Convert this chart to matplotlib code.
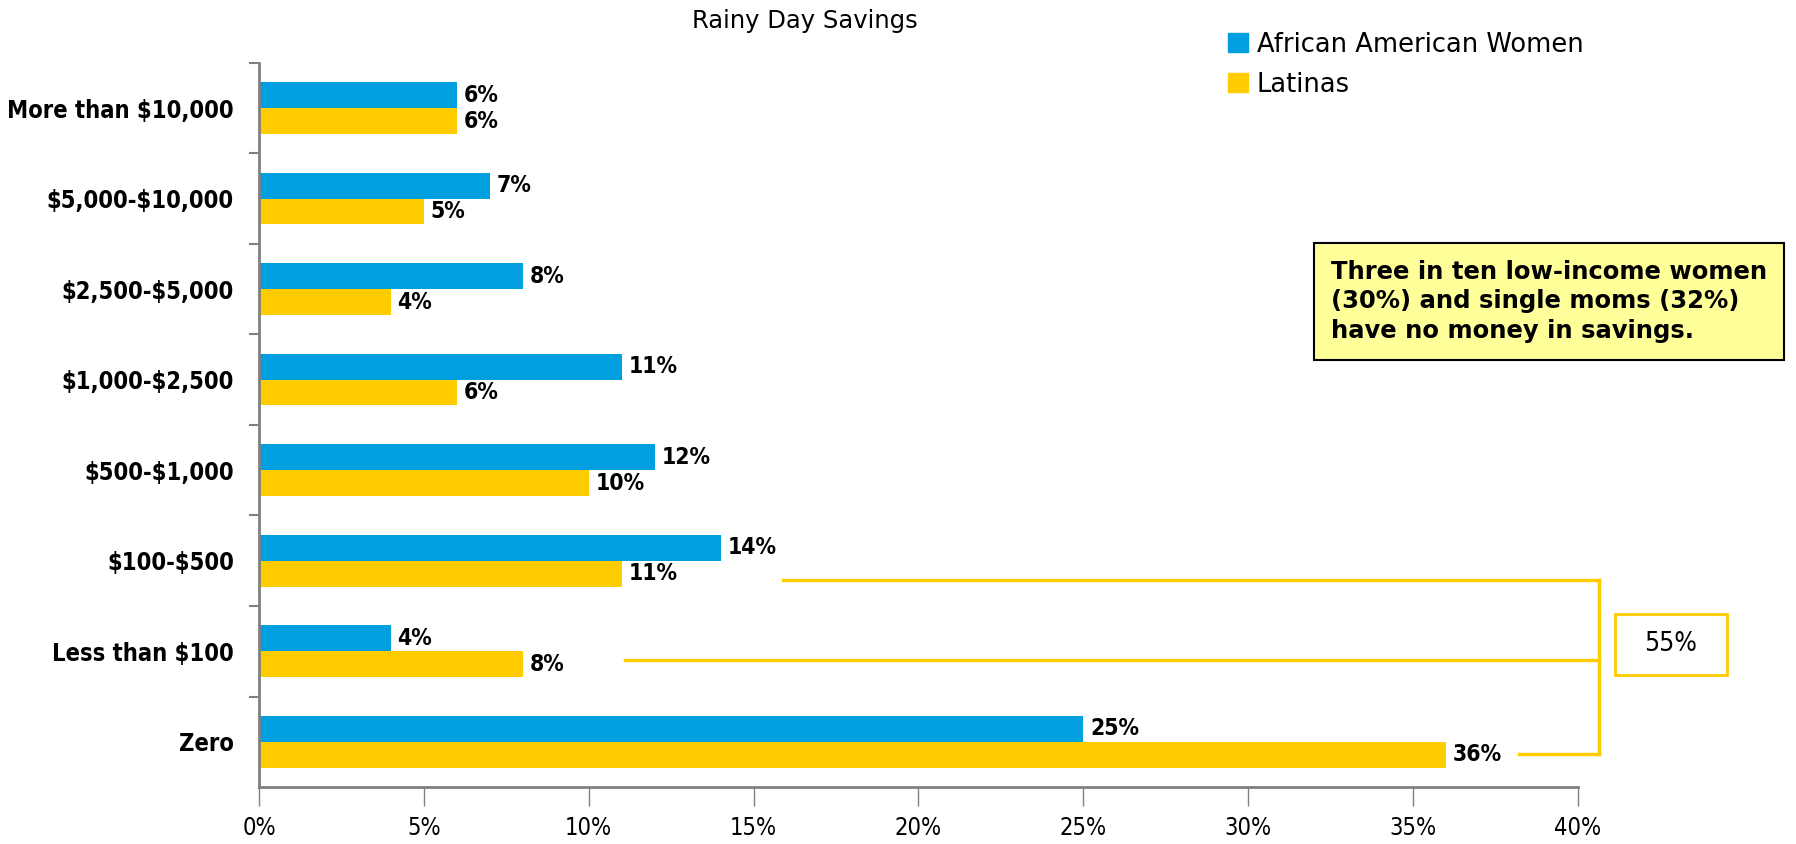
import matplotlib
matplotlib.use("Agg")
import matplotlib.pyplot as plt
from matplotlib.patches import Patch, Rectangle

# data
categories = ["More than \\$10,000", "\\$5,000-\\$10,000", "\\$2,500-\\$5,000", "\\$1,000-\\$2,500",
              "\\$500-\\$1,000", "\\$100-\\$500", "Less than \\$100", "Zero"]
african_american_women = [6, 7, 8, 11, 12, 14, 4, 25]
latinas = [6, 5, 4, 6, 10, 11, 8, 36]
xticks = [0, 5, 10, 15, 20, 25, 30, 35, 40]
callout_text = "Three in ten low-income women\n(30%) and single moms (32%)\nhave no money in savings."
bracket_total = "55%"

BLUE = "#009FDF"
YELLOW = "#FFCC00"
AXIS_GREY = "#808080"
NARROW = dict(family="DejaVu Sans", stretch="condensed")

fig = plt.figure(figsize=(17.96, 8.44), dpi=100)
ax = fig.add_axes([0.1442, 0.0675, 0.7344, 0.858])

bar_h = 0.285
ys = list(range(len(categories)))
ax.barh([y - bar_h / 2 for y in ys], african_american_women, height=bar_h, color=BLUE)
ax.barh([y + bar_h / 2 for y in ys], latinas, height=bar_h, color=YELLOW)

for y, a, l in zip(ys, african_american_women, latinas):
    ax.text(a + 0.2, y - bar_h / 2, f"{a}%", fontsize=16.5, fontweight="bold", va="center", **NARROW)
    ax.text(l + 0.2, y + bar_h / 2, f"{l}%", fontsize=16.5, fontweight="bold", va="center", **NARROW)

ax.set_xlim(0, 40)
ax.set_ylim(len(categories) - 0.5, -0.5)
ax.set_xticks(xticks)
ax.set_xticklabels([f"{t}%" for t in xticks], fontsize=17, **NARROW)
ax.set_yticks(ys)
ax.set_yticklabels(categories, fontsize=17, fontweight="bold", **NARROW)
# ticks sit on the category boundaries, labels in the middle
ax.set_yticks([y + 0.5 for y in ys[:-1]] + [-0.5], minor=True)
ax.tick_params(axis="y", which="major", length=0, pad=18)
ax.tick_params(axis="y", which="minor", length=7, width=1.5, color=AXIS_GREY, direction="out")
ax.tick_params(axis="x", length=14, width=1, color=AXIS_GREY, pad=7, direction="out")

for side in ("top", "right"):
    ax.spines[side].set_visible(False)
for side in ("left", "bottom"):
    ax.spines[side].set_color(AXIS_GREY)
    ax.spines[side].set_linewidth(2)

fig.text(0.4484, 0.9756, "Rainy Day Savings", family="DejaVu Sans", fontsize=17.5,
         ha="center", va="center")

legend_handles = [Patch(color=BLUE, label="African American Women"),
                  Patch(color=YELLOW, label="Latinas")]
fig.legend(handles=legend_handles, loc="upper left", bbox_to_anchor=(0.671, 0.99),
           frameon=False, prop=dict(family="DejaVu Sans", size=18.5),
           handlelength=0.75, handleheight=0.75, handletextpad=0.35, labelspacing=0.55)

# callout box
fig.text(0.741, 0.643, callout_text, family="DejaVu Sans", fontsize=17.5, fontweight="bold",
         va="center", ha="left", linespacing=1.3,
         bbox=dict(boxstyle="square,pad=0.7", facecolor="#FFFF99", edgecolor="black", linewidth=1.5))

# bracket grouping the three lowest savings levels
bx = 40.65
bracket = [(15.9, 5.21), (11.1, 6.1), (38.2, 7.14)]
for x0, yb in bracket:
    ax.plot([x0, bx], [yb, yb], color=YELLOW, lw=2.5, clip_on=False)
ax.plot([bx, bx], [bracket[0][1], bracket[-1][1]], color=YELLOW, lw=2.5, clip_on=False)
ax.add_patch(Rectangle((41.11, 5.59), 3.4, 0.67, facecolor="white", edgecolor=YELLOW,
                       linewidth=2, clip_on=False))
ax.text(42.81, 5.92, bracket_total, fontsize=19, ha="center", va="center", **NARROW)

fig.savefig("out.png", dpi=100)
